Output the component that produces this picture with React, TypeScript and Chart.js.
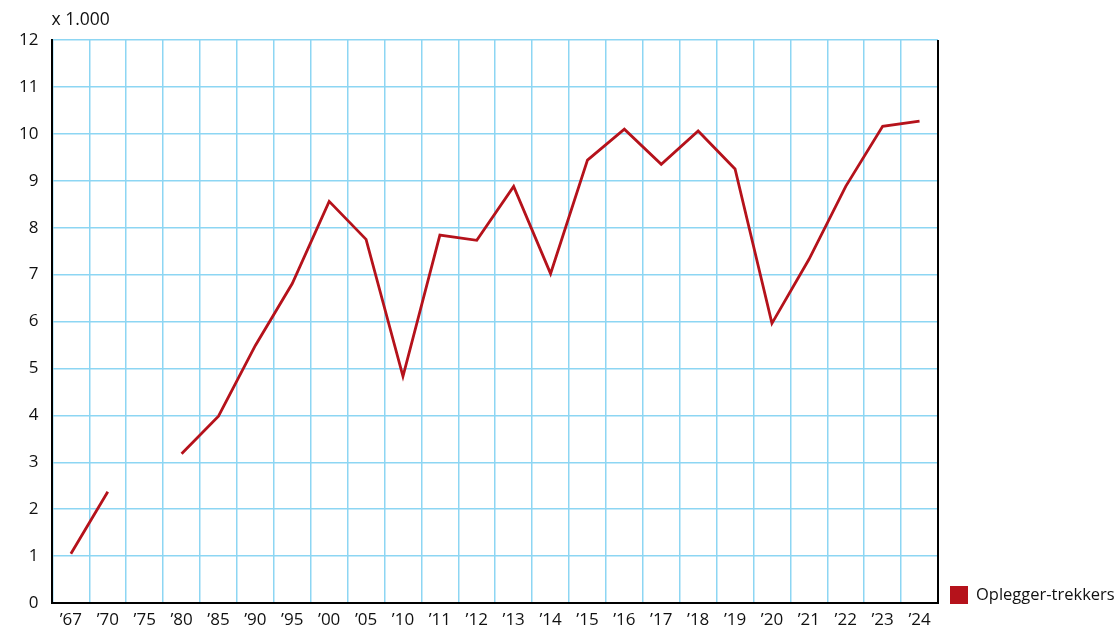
import React, { useEffect, useRef } from "react";
import { Chart, registerables } from "chart.js";

Chart.register(...registerables);

const categories = ["’67", "’70", "’75", "’80", "’85", "’90", "’95", "’00", "’05", "’10", "’11", "’12", "’13", "’14", "’15", "’16", "’17", "’18", "’19", "’20", "’21", "’22", "’23", "’24"];
const values: (number | null)[] = [1.05, 2.37, null, 3.18, 3.98, 5.49, 6.81, 8.56, 7.75, 4.83, 7.84, 7.73, 8.88, 7.02, 9.44, 10.1, 9.35, 10.06, 9.25, 5.96, 7.32, 8.88, 10.16, 10.27];
const seriesName = "Oplegger-trekkers";
const unitLabel = "x 1.000";

const FONT = "'Open Sans', sans-serif";
const GRID = "#8dd6f3";
const RED = "#b5121b";

export default function App() {
  const ref = useRef<HTMLCanvasElement>(null);
  useEffect(() => {
    const extras = {
      id: "extras",
      afterDraw(chart: any) {
        const { ctx, chartArea } = chart;
        ctx.save();
        ctx.strokeStyle = "#000";
        ctx.lineWidth = 2;
        ctx.beginPath();
        ctx.moveTo(chartArea.right, chartArea.top);
        ctx.lineTo(chartArea.right, chartArea.bottom + 1);
        ctx.stroke();
        ctx.fillStyle = "#111";
        ctx.font = "17.5px " + FONT;
        ctx.textBaseline = "alphabetic";
        ctx.textAlign = "left";
        ctx.fillText(unitLabel, chartArea.left - 1, chartArea.top - 15);
        // legend
        const ds = chart.data.datasets[0];
        const bx = chartArea.right + 12;
        const by = chartArea.bottom - 17;
        ctx.fillStyle = ds.borderColor;
        ctx.fillRect(bx, by, 18, 18);
        ctx.fillStyle = "#111";
        ctx.font = "16.5px " + FONT;
        ctx.textBaseline = "middle";
        ctx.fillText(ds.label, bx + 26, by + 9);
        ctx.restore();
      },
    };
    const chart = new Chart(ref.current!, {
      type: "line",
      data: {
        labels: categories,
        datasets: [
          {
            label: seriesName,
            data: values,
            borderColor: RED,
            backgroundColor: RED,
            borderWidth: 2.8,
            pointRadius: 0,
            spanGaps: false,
            tension: 0,
          },
        ],
      },
      options: {
        animation: false,
        responsive: false,
        layout: { padding: { top: 40, left: 5, right: 180, bottom: 0 } },
        plugins: {
          legend: { display: false },
          tooltip: { enabled: false },
        },
        scales: {
          x: {
            offset: true,
            grid: { offset: true, color: GRID, lineWidth: 1.5, drawTicks: true, tickLength: 9, tickColor: "rgba(0,0,0,0)" },
            border: { color: "#000", width: 2 },
            ticks: { color: "#111", font: { family: FONT, size: 17, lineHeight: 1 }, padding: 0, maxRotation: 0, autoSkip: false },
          },
          y: {
            min: 0,
            max: 12,
            grid: { color: GRID, lineWidth: 1.5, drawTicks: false },
            border: { color: "#000", width: 2 },
            ticks: { stepSize: 1, color: "#111", font: { family: FONT, size: 17 }, padding: 14 },
          },
        },
      },
      plugins: [extras],
    });
    return () => chart.destroy();
  }, []);
  return (
    <div style={{ position: "absolute", left: 0, top: 0, width: 1118, height: 629 }}>
      <canvas ref={ref} width={1118} height={629} />
    </div>
  );
}
